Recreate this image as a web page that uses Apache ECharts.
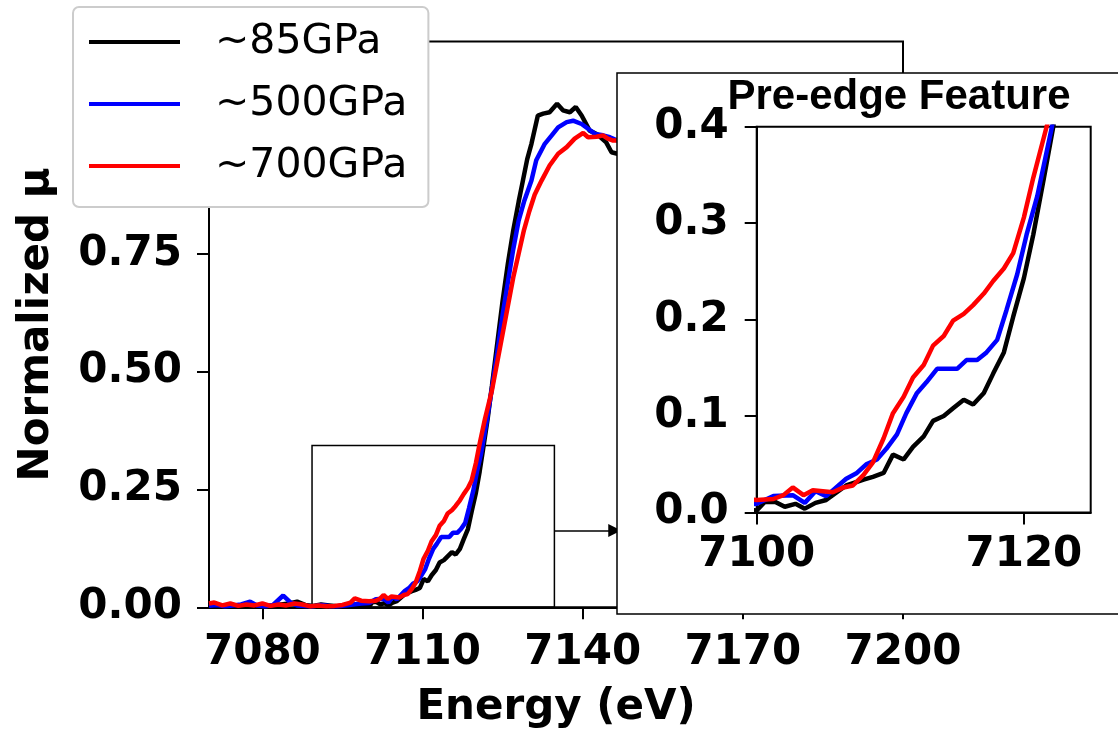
<!DOCTYPE html>
<html><head><meta charset="utf-8">
<script src="https://cdn.jsdelivr.net/npm/echarts@6/dist/echarts.min.js"></script>
<style>html,body{margin:0;padding:0;background:#fff}#c{width:1118px;height:730px}</style>
</head><body><div id="c"></div>
<script>
const seriesNames = ['~85GPa', '~500GPa', '~700GPa'];
const seriesColors = ['#000000', '#0000ff', '#ff0000'];

const energy85 = [7070,7071.5,7073,7074.5,7076,7077.5,7079,7080.5,7082,7083.5,7085,7086.5,7088,7089.5,7091,7092.5,7094,7095.5,7097,7098.5,
  7100,7100.6,7101.4,7102.1,7102.9,7103.6,7104.4,7105.2,7106,7106.7,7108,7108.7,7109.5,7110.2,7111,7111.7,7112.5,7113.2,7114,7114.7,
  7115.5,7116.2,7117,7117.7,7118.5,7119.2,7120,7120.7,7121.5,7122.2,7123,7124,7125,7126,7127,7128,7128.8,7129.6,7130.4,7131.6,
  7132.6,7133.8,7135.2,7136.3,7137.6,7138.7,7139.8,7141.3,7142.6,7144.4,7145.4,7146.5];
const mu85 = [0.004,0.006,0.002,0.005,0.003,0.004,0.002,0.003,0.004,0.006,0.008,0.012,0.005,0.003,0.006,0.004,0.002,0.004,0.005,0.004,
  0.002,0.011,0.011,0.006,0.009,0.004,0.010,0.013,0.021,0.028,0.034,0.037,0.041,0.060,0.055,0.068,0.079,0.095,0.100,0.108,
  0.117,0.112,0.124,0.144,0.166,0.203,0.243,0.288,0.347,0.400,0.470,0.560,0.650,0.730,0.800,0.860,0.905,0.950,0.983,1.043,
  1.047,1.050,1.068,1.054,1.050,1.061,1.043,1.011,1.004,0.986,0.965,0.962];

const energy500 = [7070,7071.5,7073,7074.5,7076,7077.7,7079,7080.5,7082,7083.9,7085.3,7086.5,7088,7089.5,7091,7092.5,7094,7095.5,7097,7098.5,
  7100,7101.25,7102.7,7103.6,7104.4,7105.2,7106.7,7107.5,7108.2,7109,7109.7,7110.5,7111.2,7112,7112.7,7113.5,7115,7115.7,7116.5,7117.2,
  7118,7118.7,7119.5,7120.2,7121,7122.1,7123,7124,7125,7126,7127,7128,7129,7130.4,7131.3,7132.9,7134.2,7135.4,7137,7138.2,
  7139.8,7141,7142.3,7143.8,7145.1,7146.5];
const mu500 = [0.003,0.005,0.002,0.004,0.006,0.012,0.004,0.002,0.005,0.025,0.010,0.004,0.003,0.002,0.005,0.003,0.002,0.004,0.006,0.008,
  0.009,0.017,0.018,0.010,0.022,0.017,0.035,0.041,0.050,0.055,0.066,0.081,0.103,0.124,0.135,0.149,0.149,0.158,0.158,0.166,
  0.179,0.210,0.247,0.288,0.328,0.400,0.465,0.540,0.620,0.690,0.760,0.820,0.860,0.905,0.948,0.983,1.001,1.018,1.029,1.032,
  1.025,1.015,1.004,1.001,0.997,0.990];

const energy700 = [7070,7071,7072.5,7074,7075.5,7077,7078.5,7080,7081.5,7083,7084.5,7086,7087.5,7089,7090.5,7092,7093.5,7095,7096.5,7097.3,
  7098.5,7100,7101.25,7102,7102.7,7103.5,7104.2,7105.7,7106.5,7107.2,7108,7108.7,7109.5,7110.2,7111,7111.7,7112.5,7113.2,7114,7114.7,
  7115.5,7116.2,7117,7117.7,7118.5,7119.2,7120,7120.7,7121.7,7123,7124,7125,7126,7127,7128,7129,7130,7131,7132.3,7133.8,
  7135.4,7137,7138.5,7140.1,7141,7142.6,7143.8,7144.7,7145.7,7146.5];
const mu700 = [0.008,0.010,0.004,0.008,0.003,0.006,0.004,0.008,0.003,0.006,0.004,0.008,0.006,0.002,0.004,0.002,0.003,0.005,0.010,0.019,
  0.014,0.013,0.014,0.018,0.026,0.018,0.023,0.021,0.026,0.028,0.039,0.052,0.077,0.103,0.120,0.140,0.153,0.173,0.183,0.199,
  0.206,0.215,0.227,0.240,0.253,0.269,0.306,0.347,0.400,0.460,0.520,0.580,0.640,0.700,0.750,0.800,0.840,0.875,0.905,0.937,
  0.962,0.976,0.994,1.006,0.997,0.998,1.001,0.994,0.990,0.990];

const mainXTicks = [7080, 7110, 7140, 7170, 7200];
const mainYTicks = [0, 0.25, 0.5, 0.75, 1.0];
const insetXTicks = [7100, 7120];
const insetYTicks = [0, 0.1, 0.2, 0.3, 0.4];
const zoomBoxX = [7089.3, 7134.7];
const zoomBoxY = [-0.013, 0.343];
const arrowX = [7134.7, 7146.0];
const arrowY = 0.163;

const pairs = (xs, ys) => xs.map((x, i) => [x, ys[i]]);
const allData = [pairs(energy85, mu85), pairs(energy500, mu500), pairs(energy700, mu700)];

const FONT = 'DejaVu Sans';
const tickLabel = { fontFamily: FONT, fontWeight: 'bold', fontSize: 42, color: '#000' };
const axisLineStyle = { color: '#000', width: 2 };

const chart = echarts.init(document.getElementById('c'), null, { renderer: 'canvas' });

const series = [];
allData.forEach((d, i) => {
  const s = {
    type: 'line', name: seriesNames[i], data: d, xAxisIndex: 0, yAxisIndex: 0,
    symbol: 'none', showSymbol: false, clip: false, z: 2 + i,
    lineStyle: { color: seriesColors[i], width: 4.5 }, itemStyle: { color: seriesColors[i] },
    animation: false
  };
  if (i === 0) {
    s.markArea = {
      silent: true,
      itemStyle: { color: 'rgba(0,0,0,0)', borderColor: '#000', borderWidth: 1.5 },
      data: [[{ coord: [zoomBoxX[0], zoomBoxY[0]] }, { coord: [zoomBoxX[1], zoomBoxY[1]] }]]
    };
    s.markLine = {
      silent: true, symbol: ['none', 'triangle'], symbolSize: [13, 13],
      label: { show: false },
      lineStyle: { color: '#000', width: 1.5, type: 'solid' },
      data: [[{ coord: [arrowX[0], arrowY] }, { coord: [arrowX[1], arrowY] }]]
    };
  }
  series.push(s);
});
allData.forEach((d, i) => {
  series.push({
    type: 'line', name: seriesNames[i], data: d, xAxisIndex: 1, yAxisIndex: 1,
    symbol: 'none', showSymbol: false, clip: true, z: 60 + i,
    lineStyle: { color: seriesColors[i], width: 4.5 }, itemStyle: { color: seriesColors[i] },
    animation: false
  });
});

chart.setOption({
  animation: false,
  backgroundColor: '#fff',
  grid: [
    { left: 209, top: 41.5, right: 215, bottom: 122.7, show: true, borderColor: '#000', borderWidth: 2,
      backgroundColor: 'transparent', containLabel: false, outerBoundsMode: 'none' },
    { left: 756.7, top: 126.7, right: 27.3, bottom: 217.5, show: true, borderColor: '#000', borderWidth: 2,
      backgroundColor: 'transparent', containLabel: false, outerBoundsMode: 'none', z: 60 }
  ],
  xAxis: [
    { gridIndex: 0, type: 'value', min: 7070, max: 7200,
      axisLine: { show: true, onZero: false, lineStyle: axisLineStyle },
      axisTick: { show: true, customValues: mainXTicks, length: 12, lineStyle: axisLineStyle },
      axisLabel: Object.assign({ customValues: mainXTicks, margin: 25, formatter: v => String(v) }, tickLabel),
      splitLine: { show: false },
      name: 'Energy (eV)', nameLocation: 'middle', nameGap: 80,
      nameTextStyle: { fontFamily: FONT, fontWeight: 'bold', fontSize: 42, color: '#000' } },
    { gridIndex: 1, type: 'value', min: 7100, max: 7125, z: 60,
      axisLine: { show: true, onZero: false, lineStyle: axisLineStyle },
      axisTick: { show: true, customValues: insetXTicks, length: 12, lineStyle: axisLineStyle },
      axisLabel: Object.assign({ customValues: insetXTicks, margin: 22, formatter: v => String(v) }, tickLabel),
      splitLine: { show: false } }
  ],
  yAxis: [
    { gridIndex: 0, type: 'value', min: 0, max: 1.2,
      axisLine: { show: true, onZero: false, lineStyle: axisLineStyle },
      axisTick: { show: true, customValues: mainYTicks, length: 12, lineStyle: axisLineStyle },
      axisLabel: Object.assign({ customValues: mainYTicks, margin: 27, formatter: v => v.toFixed(2) }, tickLabel),
      splitLine: { show: false },
      name: 'Normalized μ', nameLocation: 'middle', nameGap: 151,
      nameTextStyle: { fontFamily: FONT, fontWeight: 'bold', fontSize: 42, color: '#000' } },
    { gridIndex: 1, type: 'value', min: 0, max: 0.4, z: 60,
      axisLine: { show: true, onZero: false, lineStyle: axisLineStyle },
      axisTick: { show: true, customValues: insetYTicks, length: 12, lineStyle: axisLineStyle },
      axisLabel: Object.assign({ customValues: insetYTicks, margin: 28, formatter: v => v.toFixed(1) }, tickLabel),
      splitLine: { show: false } }
  ],
  legend: {
    data: seriesNames, orient: 'vertical', left: 73, top: 7,
    icon: 'rect', itemWidth: 91, itemHeight: 4, itemGap: 18,
    padding: [13, 21, 19, 16],
    backgroundColor: '#fff', borderColor: '#cccccc', borderWidth: 2, borderRadius: 6,
    textStyle: { fontFamily: FONT, fontSize: 41, color: '#000', lineHeight: 44, padding: [0, 0, 0, 30] },
    selectedMode: false, z: 10
  },
  graphic: [
    { type: 'rect', z: 50, shape: { x: 617, y: 73, width: 620, height: 541 },
      style: { fill: '#fff', stroke: '#000', lineWidth: 1.5 } },
    { type: 'text', z: 61, x: 899, y: 97,
      style: { text: 'Pre-edge Feature', fontFamily: 'Liberation Sans', fontWeight: 'bold', fontSize: 42, fill: '#000',
               align: 'center', verticalAlign: 'middle', textAlign: 'center', textVerticalAlign: 'middle' } }
  ],
  series: series
});
</script>
</body></html>
